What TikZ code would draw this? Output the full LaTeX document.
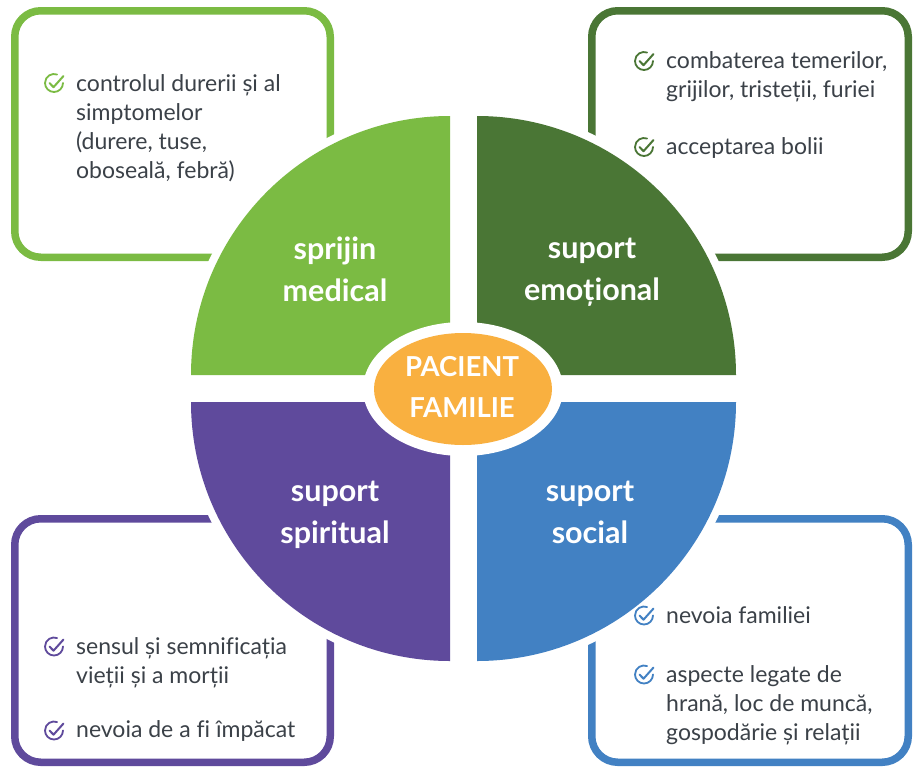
\documentclass[tikz,border=0pt]{standalone}
\usepackage{fontspec}
\setmainfont[Ligatures=NoCommon]{Lato}
\definecolor{cLG}{HTML}{7BBB43}
\definecolor{cDG}{HTML}{4A7635}
\definecolor{cPU}{HTML}{5F4A9C}
\definecolor{cBL}{HTML}{4281C3}
\definecolor{cOR}{HTML}{F9B040}
\definecolor{cTX}{HTML}{3B4148}
\tikzset{
  infobox/.style={line width=7.5, rounded corners=26, fill=white},
  quad/.style={draw=white, line width=16},
  qlabel/.style={text=white, font=\fontsize{30.5}{42}\selectfont\bfseries, align=center, inner sep=0},
  btext/.style={text=cTX, font=\fontsize{23}{29}\selectfont, align=left, anchor=north west, inner sep=0},
  chk/.pic={
    \draw[#1, line width=1.8, line cap=round] (9,0) arc[start angle=0, end angle=290, radius=9];
    \draw[#1, line width=2, line cap=round, line join=round] (-4.5,0) -- (-0.5,4.2) -- (9.5,-7);
  }
}
\begin{document}
\begin{tikzpicture}[x=1pt, y=-1pt]
\useasboundingbox (0,0) rectangle (914,769);
% boxes
\draw[infobox, draw=cLG] (14.75,10.75) rectangle (330.25,257.25);
\draw[infobox, draw=cDG] (591.75,10.75) rectangle (908.25,257.25);
\draw[infobox, draw=cPU] (14.75,518.75) rectangle (330.25,762.25);
\draw[infobox, draw=cBL] (591.75,518.75) rectangle (908.25,762.25);
% quadrants
\path[quad, fill=cLG] (450,375) -- (191,375) arc[start angle=180, end angle=270, radius=259] -- cycle;
\path[quad, fill=cDG] (477,375) -- (477,116) arc[start angle=270, end angle=360, radius=259] -- cycle;
\path[quad, fill=cPU] (450,402) -- (450,661) arc[start angle=90, end angle=180, radius=259] -- cycle;
\path[quad, fill=cBL] (477,402) -- (736,402) arc[start angle=0, end angle=90, radius=259] -- cycle;
\fill[cLG] (450,375) -- (191,375) arc[start angle=180, end angle=270, radius=259] -- cycle;
\fill[cDG] (477,375) -- (477,116) arc[start angle=270, end angle=360, radius=259] -- cycle;
\fill[cPU] (450,402) -- (450,661) arc[start angle=90, end angle=180, radius=259] -- cycle;
\fill[cBL] (477,402) -- (736,402) arc[start angle=0, end angle=90, radius=259] -- cycle;
% center
\fill[white] (463,389) ellipse[x radius=100, y radius=67];
\fill[cOR] (463,389) ellipse[x radius=89, y radius=56];
\node[qlabel, font=\fontsize{27.5}{41}\selectfont\bfseries] (center) at (462,387) {PACIENT\\FAMILIE};
% quadrant labels
\node[qlabel] (med) at (335,269) {sprijin\\medical};
\node[qlabel] (emo) at (592,272) {suport\\emoțional};
\node[qlabel] (spi) at (335,515) {suport\\spiritual};
\node[qlabel] (soc) at (590,512) {suport\\social};
% box texts
\pic at (54,83) {chk=cLG};
\node[btext] (t1) at (76,74) {controlul durerii și al\\simptomelor\\(durere, tuse,\\oboseală, febră)};
\pic at (644,61) {chk=cDG};
\node[btext] (t2) at (666,51.7) {combaterea temerilor,\\grijilor, tristeții, furiei};
\pic at (644,147) {chk=cDG};
\node[btext] (t3) at (666,137.7) {acceptarea bolii};
\pic at (54,646.5) {chk=cPU};
\node[btext] (t4) at (76,637.4) {sensul și semnificația\\vieții și a morții};
\pic at (54,730.5) {chk=cPU};
\node[btext] (t5) at (76,720.5) {nevoia de a fi împăcat};
\pic at (644,615.5) {chk=cBL};
\node[btext] (t6) at (666,606.4) {nevoia familiei};
\pic at (644,674.5) {chk=cBL};
\node[btext] (t7) at (666,665.4) {aspecte legate de\\hrană, loc de muncă,\\gospodărie și relații};
\end{tikzpicture}
\end{document}
